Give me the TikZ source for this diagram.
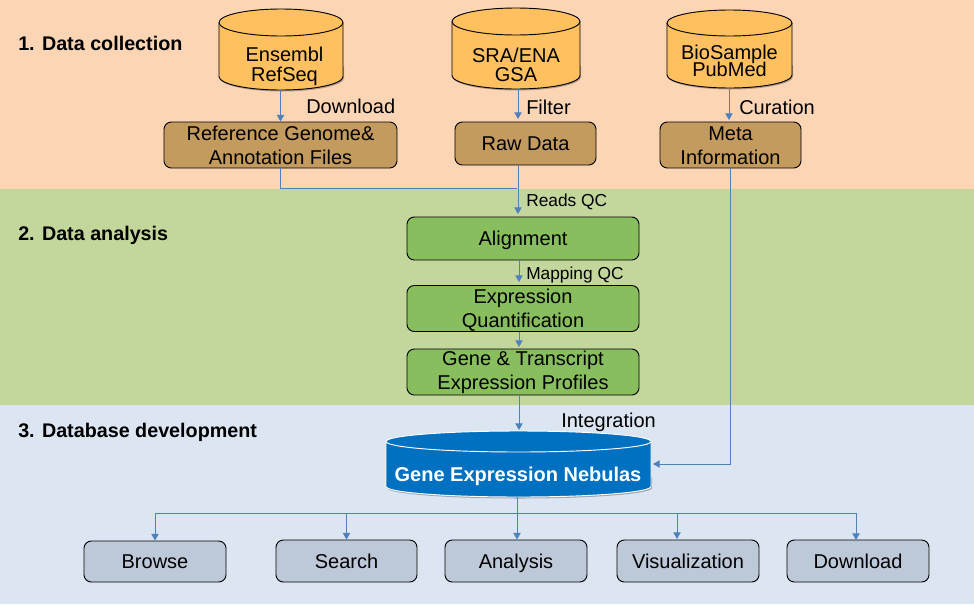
\documentclass[tikz,border=0pt]{standalone}
\usepackage{fontspec}
\setmainfont{Liberation Sans}
\usetikzlibrary{arrows.meta}
\lineskiplimit=-30pt
\definecolor{bandA}{HTML}{FCD5B5}
\definecolor{bandB}{HTML}{C3D69B}
\definecolor{bandC}{HTML}{DCE6F2}
\definecolor{cylF}{HTML}{FFC060}
\definecolor{boxA}{HTML}{C39B5F}
\definecolor{boxB}{HTML}{88BE5D}
\definecolor{boxC}{HTML}{BDC9D8}
\definecolor{gen}{HTML}{0070C0}
\definecolor{conn}{HTML}{4F81BD}
\newcommand\dn[1]{\rule{0pt}{#1}}
% style, centre x, top, bottom, rx, ry (pixels): soft shadow, body, front rim of the lid
\newcommand\cylbody[6]{%
  \fill[black,opacity=0.28] ({#2-#5+1},{#4-#6-10}) -- ({#2-#5+1},{#4-#6+1.5})
    arc[start angle=180,end angle=360,x radius=#5*0.75pt,y radius=#6*0.75pt]
    -- ({#2+#5+1},{#4-#6-10}) -- cycle;
  \draw[#1] ({#2-#5},{#3+#6}) -- ({#2-#5},{#4-#6})
    arc[start angle=180,end angle=360,x radius=#5*0.75pt,y radius=#6*0.75pt]
    -- ({#2+#5},{#3+#6})
    arc[start angle=0,end angle=180,x radius=#5*0.75pt,y radius=#6*0.75pt] -- cycle;
  \draw[#1,fill=none] ({#2-#5},{#3+#6})
    arc[start angle=180,end angle=360,x radius=#5*0.75pt,y radius=#6*0.75pt];}
\tikzset{
  x=0.75pt,y=-0.75pt,
  txt/.style={font=\fontsize{15}{18}\selectfont,align=center,inner sep=0pt,text=black},
  sl/.style={text height=10.7pt,text depth=0pt},
  small/.style={font=\fontsize{13}{15}\selectfont,inner sep=0pt,anchor=west},
  head/.style={font=\fontsize{14.8}{16}\selectfont\bfseries,inner sep=0pt,anchor=west},
  lab/.style={txt,anchor=west},
  pbox/.style={txt,draw=black,line width=0.7pt,rounded corners=5.5pt,minimum width=#1*0.75pt},
  cylshape/.style={draw=black,line width=0.7pt,fill=cylF},
  dbshape/.style={draw=white,line width=0.7pt,fill=gen},
  cyltext/.style={txt,minimum height=#1*0.75pt},
  link/.style={draw=conn,line width=0.7pt},
  arr/.style={link,-{Triangle[length=5pt,width=5.5pt]}},
}
\begin{document}
\begin{tikzpicture}
\useasboundingbox (0,0) rectangle (974,604);
\fill[bandA] (0,0) rectangle (974,189);
\fill[bandB] (0,189) rectangle (974,405);
\fill[bandC] (0,405) rectangle (974,604);
% headings
\node[head] (h1) at (18,43) {1. Data collection};
\node[head] (h2) at (18,235) {2. Data analysis};
\node[head] (h3) at (18,432) {3. Database development};
% source cylinders
\cylbody{cylshape}{281}{9}{90}{62}{13.5}
\cylbody{cylshape}{516}{8}{89}{64}{13.5}
\cylbody{cylshape}{729.5}{10}{88}{62.5}{13}
\node[cyltext=48,font=\fontsize{15}{15}\selectfont] (ens) at (284.5,66) {Ensembl\\RefSeq};
\node[cyltext=48,font=\fontsize{15}{14.5}\selectfont] (sra) at (516,65) {SRA/ENA\\GSA};
\node[cyltext=55,font=\fontsize{15}{12.75}\selectfont] (bio) at (729.5,60.5) {BioSample\\PubMed};
% boxes
\node[pbox=233,fill=boxA,minimum height=46*0.75pt] (ref) at (280.5,145) {Reference Genome\&\\Annotation Files};
\node[pbox=141,fill=boxA,minimum height=43*0.75pt,sl] (raw) at (525.5,143.5) {Raw Data};
\node[pbox=141,fill=boxA,minimum height=46*0.75pt] (meta) at (730.5,145) {\dn{11.6pt}Meta\\Information};
\node[pbox=232,fill=boxB,minimum height=43*0.75pt,sl] (ali) at (523,238.5) {Alignment};
\node[pbox=232,fill=boxB,minimum height=45*0.75pt] (exq) at (523,308.5) {\dn{13.7pt}Expression\\Quantification};
\node[pbox=232,fill=boxB,minimum height=46*0.75pt] (prof) at (523,372) {\dn{11.6pt}Gene \& Transcript\\Expression Profiles};
\node[pbox=142,fill=boxC,minimum height=41*0.75pt,sl] (bro) at (155,561.5) {Browse};
\node[pbox=141,fill=boxC,minimum height=42*0.75pt,sl] (sea) at (346.5,561) {Search};
\node[pbox=142,fill=boxC,minimum height=42*0.75pt,sl] (ana) at (516,561) {Analysis};
\node[pbox=142,fill=boxC,minimum height=42*0.75pt,sl] (vis) at (688,561) {Visualization};
\node[pbox=142,fill=boxC,minimum height=42*0.75pt,sl] (dow) at (858,561) {Download};
% database
\cylbody{dbshape}{518.5}{431}{497}{132.5}{10.5}
\node[txt,text=white,font=\fontsize{15}{18}\selectfont\bfseries,sl,minimum height=46*0.75pt] (db) at (518,474) {Gene Expression Nebulas};
% coordinates
\coordinate (j1) at (517,188);
\coordinate (j2) at (517,513);
\coordinate (a2) at (518,119);
\coordinate (a3) at (729,120);
\coordinate (a4) at (518,214);
\coordinate (a5) at (519,282);
\coordinate (a6) at (519,347);
\coordinate (a7) at (519,430);
\coordinate (dbin) at (653,464);
\coordinate (v) at (677,539);
\coordinate (d) at (856,540);
% connectors
\draw[arr] (ref.north |- ens.south) -- (ref.north);
\draw[arr] (a2 |- sra.south) -- (a2);
\draw[arr] (a3 |- bio.south) -- (a3);
\draw[link] (ref.south) -- (ref.south |- j1) -- (j1);
\draw[arr] (a4 |- raw.south) -- (a4);
\draw[arr] (meta.south) -- (meta.south |- dbin) -- (dbin);
\draw[arr] (a5 |- ali.south) -- (a5);
\draw[arr] (a6 |- exq.south) -- (a6);
\draw[arr] (a7 |- prof.south) -- (a7);
\draw[link] (j2 |- db.south) -- (j2);
\draw[arr] (j2) -| (bro.north);
\draw[arr] (j2) -| (sea.north);
\draw[arr] (j2) -- (j2 |- ana.north);
\draw[arr] (j2) -| (v);
\draw[arr] (j2) -| (d);
% labels
\node[lab] (l1) at (306,106) {Download};
\node[lab] (l2) at (526,107) {Filter};
\node[lab] (l3) at (739,107) {Curation};
\node[small] (l4) at (526,202) {Reads QC};
\node[small] (l5) at (526,275) {Mapping QC};
\node[lab] (l6) at (561,422) {Integration};
\end{tikzpicture}
\end{document}
